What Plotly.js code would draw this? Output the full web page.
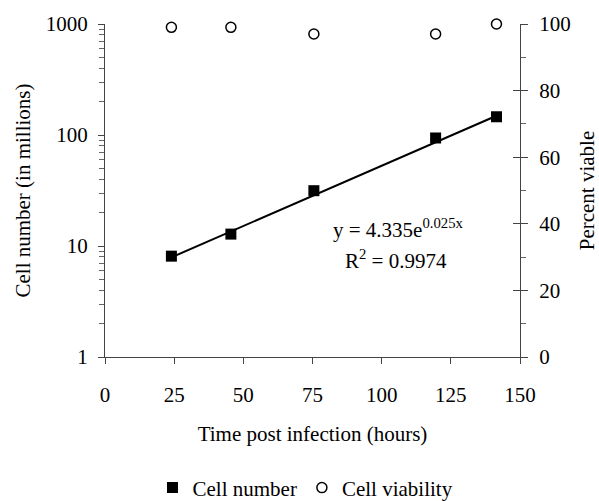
<!DOCTYPE html>
<html>
<head>
<meta charset="utf-8">
<script src="https://cdn.plot.ly/plotly-3.0.1.min.js"></script>
<style>html,body{margin:0;padding:0;background:#fff;}#chart{width:599px;height:501px;}</style>
</head>
<body>
<div id="chart"></div>
<script>
// Data
const hours = [24, 45.5, 75.5, 119.5, 141.5];
const cellNumber = [8.1, 12.8, 31.5, 94, 146];
const viability = [99, 99, 97, 97, 100];
const trendHours = [24, 141.5];
const trendValues = [7.9, 149];
const xTicks = [0, 25, 50, 75, 100, 125, 150];
const yLeftTicks = [1, 10, 100, 1000];
const yRightTicks = [0, 20, 40, 60, 80, 100];

const FONT = 'Liberation Serif, Times New Roman, serif';
const FS = 21;

const traces = [
  {
    x: trendHours, y: trendValues, type: 'scatter', mode: 'lines',
    line: {color: '#000', width: 2}, showlegend: false, hoverinfo: 'skip', yaxis: 'y'
  },
  {
    x: hours, y: cellNumber, type: 'scatter', mode: 'markers', name: 'Cell number',
    marker: {symbol: 'square', size: 11, color: '#000'}, yaxis: 'y', cliponaxis: false
  },
  {
    x: hours, y: viability, type: 'scatter', mode: 'markers', name: 'Cell viability',
    marker: {symbol: 'circle-open', size: 10, color: '#000', line: {width: 1.5, color: '#000'}},
    yaxis: 'y2', cliponaxis: false
  },
  {x: [null], y: [null], yaxis: 'y3', showlegend: false, hoverinfo: 'skip', type: 'scatter', mode: 'markers'}
];

const layout = {
  width: 599, height: 501,
  margin: {l: 105, r: 79, t: 24, b: 144},
  paper_bgcolor: '#fff', plot_bgcolor: '#fff',
  font: {family: FONT, size: FS, color: '#000'},
  showlegend: true,
  legend: {
    orientation: 'h', xref: 'container', yref: 'container',
    x: 0.51, xanchor: 'center', y: 0.026, yanchor: 'middle',
    font: {family: FONT, size: FS, color: '#000'}, itemwidth: 30, tracegroupgap: 0
  },
  xaxis: {
    range: [0, 150], tickvals: xTicks, ticks: 'outside', ticklen: 6, tickcolor: '#444',
    showline: true, linecolor: '#444', linewidth: 1, showgrid: false, zeroline: false,
    automargin: false,
    ticklabelstandoff: 13, tickfont: {family: FONT, size: FS, color: '#000'},
    title: {text: 'Time post infection (hours)', font: {family: FONT, size: FS, color: '#000'}, standoff: 20}
  },
  yaxis: {
    type: 'log', range: [0, 3], tickvals: yLeftTicks, ticktext: yLeftTicks.map(String),
    ticks: 'outside', ticklen: 6, tickcolor: '#444',
    minor: {ticks: 'outside', ticklen: 5, tickcolor: '#666', dtick: 'D1', showgrid: false},
    showline: true, linecolor: '#444', linewidth: 1, showgrid: false, zeroline: false,
    automargin: false,
    ticklabelstandoff: 6, tickfont: {family: FONT, size: FS, color: '#000'},
    title: {text: 'Cell number (in millions)', font: {family: FONT, size: FS, color: '#000'}, standoff: 9}
  },
  yaxis2: {
    overlaying: 'y', side: 'right', anchor: 'x', range: [0, 100], tickvals: yRightTicks,
    ticks: 'outside', ticklen: 7, tickcolor: '#444',
    minor: {ticks: 'outside', ticklen: 5, tickcolor: '#666', dtick: 10, showgrid: false},
    showline: true, linecolor: '#444', linewidth: 1, showgrid: false, zeroline: false,
    automargin: false,
    ticklabelstandoff: 7, tickfont: {family: FONT, size: FS, color: '#000'},
    title: {text: 'Percent viable', font: {family: FONT, size: FS, color: '#000'}, standoff: 14}
  },
  yaxis3: {
    overlaying: 'y', side: 'right', anchor: 'x', range: [0, 100], tickvals: yRightTicks,
    ticks: 'inside', ticklen: 7, tickcolor: '#444', showticklabels: false,
    showline: false, showgrid: false, zeroline: false, automargin: false
  },
  annotations: [
    {xref: 'paper', yref: 'paper', x: 0.705, y: 0.387, xanchor: 'center', yanchor: 'middle',
     text: 'y = 4.335e<sup>0.025x</sup>',
     showarrow: false, font: {family: FONT, size: FS, color: '#000'}},
    {xref: 'paper', yref: 'paper', x: 0.70, y: 0.292, xanchor: 'center', yanchor: 'middle',
     text: 'R<sup>2</sup> = 0.9974',
     showarrow: false, font: {family: FONT, size: FS, color: '#000'}}
  ]
};

Plotly.newPlot('chart', traces, layout, {displayModeBar: false, staticPlot: true});
</script>
</body>
</html>
